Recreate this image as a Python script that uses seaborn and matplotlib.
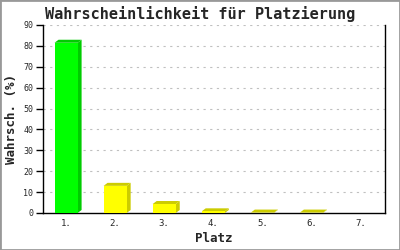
import matplotlib
matplotlib.use("Agg")
import matplotlib.pyplot as plt
import seaborn as sns
import pandas as pd
from matplotlib.patches import Polygon, Rectangle

places = ["1.", "2.", "3.", "4.", "5.", "6.", "7."]
probs = [81.5, 13.0, 4.3, 0.8, 0.2, 0.2, 0.0]
front_colors = ["#00ff00", "#ffff00", "#ffff00", "#ffff00", "#ffff00", "#ffff00", "#ffff00"]
side_colors = ["#00cc00", "#cccc00", "#cccc00", "#cccc00", "#cccc00", "#cccc00", "#cccc00"]

sns.set_theme(style="white")
plt.rcParams['font.family'] = ['DejaVu Sans Mono', 'DejaVu Sans']

df = pd.DataFrame({"Platz": places, "p": probs})
fig = plt.figure(figsize=(4, 2.5), dpi=100)
ax = fig.add_axes([0.1075, 0.148, 0.855, 0.752])
sns.barplot(data=df, x="Platz", y="p", hue="Platz", palette=front_colors,
            legend=False, width=0.47, ax=ax, saturation=1, linewidth=0, zorder=3)
ax.set_xlim(-0.47, 6.5)
ax.set_ylim(0, 90)
ax.set_yticks(range(0, 91, 10))

# pixel to data conversion for depth
fig.canvas.draw()
p0 = ax.transData.transform((0, 0))
p1 = ax.transData.transform((1, 10))
dx = 4.0 / (p1[0] - p0[0])
dy = 3.0 / ((p1[1] - p0[1]) / 10.0)

for patch, side in zip(ax.patches, side_colors):
    x = patch.get_x(); w = patch.get_width(); h = patch.get_height()
    patch.set_antialiased(False)
    if h <= 0:
        continue
    top = Polygon([(x, h), (x + dx, h + dy), (x + w + dx, h + dy), (x + w, h)],
                  closed=True, facecolor=side, edgecolor="none", zorder=2.9)
    right = Polygon([(x + w, 0), (x + w + dx, dy), (x + w + dx, h + dy), (x + w, h)],
                    closed=True, facecolor=side, edgecolor="none", zorder=2.9)
    ax.add_patch(top); ax.add_patch(right)

for y in range(10, 91, 10):
    ax.axhline(y, color="#c0c0c0", linestyle=(0, (2, 4)), linewidth=0.8, zorder=1)

for s in ["left", "bottom", "right"]:
    ax.spines[s].set_visible(True)
    ax.spines[s].set_color("black")
    ax.spines[s].set_linewidth(1.0)
ax.spines["top"].set_visible(False)

ax.tick_params(axis="y", which="both", left=True, length=5, width=1, color="black",
               labelsize=6, pad=2)
ax.tick_params(axis="x", bottom=False, length=0, labelsize=6.5, pad=4)
ax.set_xlabel("Platz", fontsize=9, fontweight="bold", labelpad=3)
ax.set_ylabel("Wahrsch. (%)", fontsize=9, fontweight="bold", labelpad=4)
fig.suptitle("Wahrscheinlichkeit für Platzierung", fontsize=11, fontweight="bold",
             y=0.975)

fig.patches.append(Rectangle((0, 0), 1, 1, transform=fig.transFigure, fill=False,
                             edgecolor="#999999", linewidth=2))
fig.savefig("out.png", dpi=100, facecolor="white")
